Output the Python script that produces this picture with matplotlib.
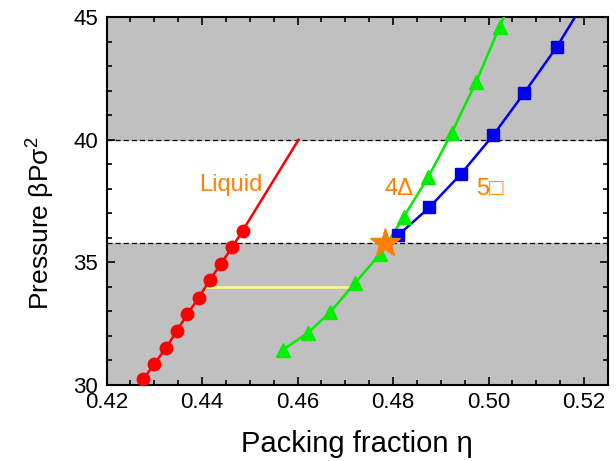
import numpy as np
import matplotlib
matplotlib.use("Agg")
import matplotlib.pyplot as plt
from matplotlib.ticker import MultipleLocator

plt.rcParams["font.family"] = ["Liberation Sans", "DejaVu Sans"]
plt.rcParams["mathtext.fontset"] = "custom"
plt.rcParams["mathtext.rm"] = "Liberation Sans"

# Liquid branch (red circles)
eta_liq = [0.4277, 0.4300, 0.4325, 0.4347, 0.4369, 0.4393, 0.4416, 0.4439, 0.4463, 0.4485]
p_liq = [30.23, 30.86, 31.52, 32.20, 32.88, 33.56, 34.27, 34.93, 35.61, 36.29]
# extension of the liquid line (no markers)
eta_liq_ext = [0.4272, 0.4602]
p_liq_ext = [29.9, 40.0]

# 4-triangle branch (green triangles)
eta_4 = [0.4569, 0.4621, 0.4668, 0.4720, 0.4773, 0.4822, 0.4874, 0.4923, 0.4974, 0.5023]
p_4 = [31.43, 32.11, 32.96, 34.15, 35.34, 36.84, 38.49, 40.29, 42.36, 44.61]
eta_4_end, p_4_end = 0.5032, 45.0

# 5-square branch (blue squares)
eta_5 = [0.4811, 0.4876, 0.4942, 0.5010, 0.5074, 0.5143]
p_5 = [36.11, 37.24, 38.60, 40.19, 41.89, 43.79]
eta_5_end, p_5_end = 0.5181, 45.0

# coexistence tie line and special point
tie_eta = [0.4406, 0.4720]
tie_p = 34.0
star_eta, star_p = 0.4783, 35.78

# shaded pressure bands
p_low, p_high = 35.8, 40.0

orange = "#FF8000"

fig = plt.figure(figsize=(6.16, 4.61), dpi=100)
ax = fig.add_axes([0.173, 0.165, 0.814, 0.798])

ax.axhspan(29, p_low, color="#C0C0C0", zorder=0)
ax.axhspan(p_high, 46, color="#C0C0C0", zorder=0)
ax.axhline(p_low, color="black", ls=(0, (4, 2.5)), lw=0.9, zorder=1)
ax.axhline(p_high, color="black", ls=(0, (4, 2.5)), lw=0.9, zorder=1)

ax.plot(tie_eta, [tie_p, tie_p], color="#FFFF80", lw=1.8, zorder=2)

ax.plot([eta_liq_ext[0]] + eta_liq + [eta_liq_ext[1]],
        [p_liq_ext[0]] + p_liq + [p_liq_ext[1]], color="#FF0000", lw=1.8, zorder=3)
ax.plot(eta_liq, p_liq, "o", color="#FF0000", ms=9, zorder=4)

ax.plot(eta_4 + [eta_4_end], p_4 + [p_4_end], color="#00EE00", lw=1.8, zorder=3)
ax.plot(eta_4, p_4, "^", color="#00EE00", ms=10, zorder=4)

ax.plot(eta_5 + [eta_5_end], p_5 + [p_5_end], color="#0000EE", lw=1.8, zorder=3)
ax.plot(eta_5, p_5, "s", color="#0000EE", ms=8.5, zorder=4)

ax.plot(star_eta, star_p, "*", color=orange, ms=22, zorder=5)

ax.text(0.4461, 38.15, "Liquid", color=orange, fontsize=17, ha="center", va="center")
ax.text(0.4813, 38.0, "4\u0394", color=orange, fontsize=17, ha="center", va="center")
ax.text(0.5003, 38.0, "5\u25a1", color=orange, fontsize=17, ha="center", va="center",
        family=["Liberation Sans", "DejaVu Sans"])

ax.set_xlim(0.42, 0.525)
ax.set_ylim(30, 45)
ax.xaxis.set_major_locator(MultipleLocator(0.02))
ax.xaxis.set_minor_locator(MultipleLocator(0.005))
ax.yaxis.set_major_locator(MultipleLocator(5))
ax.yaxis.set_minor_locator(MultipleLocator(1))
ax.xaxis.set_major_formatter(plt.FuncFormatter(lambda v, p: f"{v:.2f}"))
ax.tick_params(which="both", direction="in", top=True, right=True, width=1.2,
               labelsize=16)
ax.tick_params(axis="x", pad=5)
ax.tick_params(axis="y", pad=6)
ax.tick_params(which="major", length=6)
ax.tick_params(which="minor", length=3.5)
for s in ax.spines.values():
    s.set_linewidth(1.5)

ax.set_xlabel("Packing fraction \u03b7", fontsize=21, labelpad=12)
ax.set_ylabel("Pressure \u03b2P\u03c3$^2$", fontsize=19)
ax.yaxis.set_label_coords(-0.10, 0.44)

fig.savefig("out.png", dpi=100)
